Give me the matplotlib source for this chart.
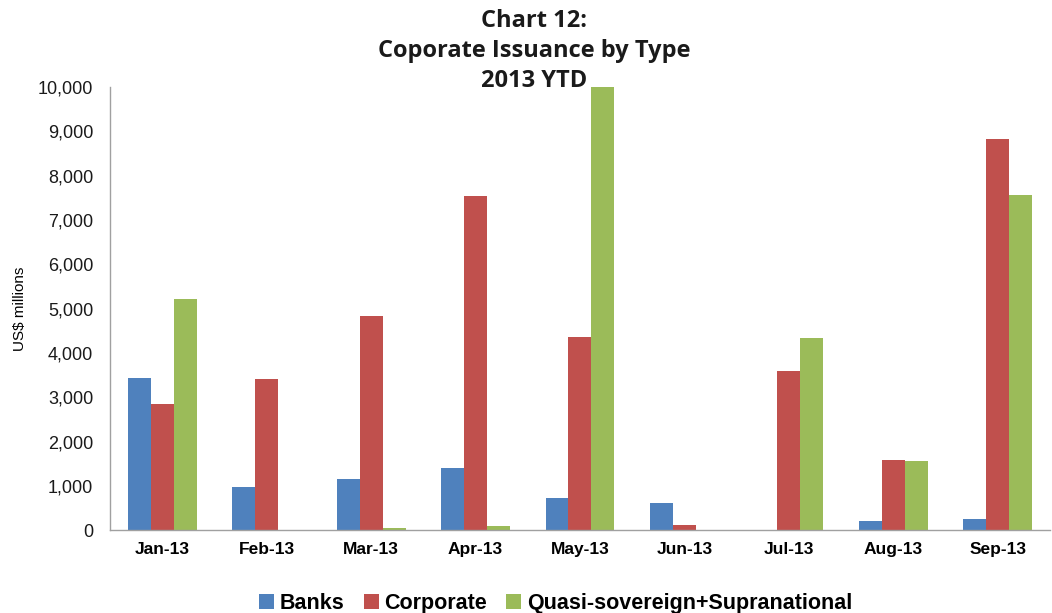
import matplotlib
matplotlib.use("Agg")
import matplotlib.pyplot as plt
import numpy as np

# Monthly corporate issuance, US$ millions
months = ["Jan-13", "Feb-13", "Mar-13", "Apr-13", "May-13", "Jun-13",
          "Jul-13", "Aug-13", "Sep-13"]
banks = [3450, 980, 1160, 1410, 740, 610, 0, 210, 270]
corporate = [2860, 3420, 4840, 7550, 4370, 120, 3600, 1600, 8830]
quasi_sovereign = [5210, 0, 60, 90, 10000, 0, 4330, 1570, 7560]

series_names = ["Banks", "Corporate", "Quasi-sovereign+Supranational"]
colors = ["#4F81BD", "#C0504D", "#9BBB59"]
yticks = list(range(0, 10001, 1000))

fig = plt.figure(figsize=(10.52, 6.13), dpi=100)
ax = fig.add_axes([0.1046, 0.1346, 0.8934, 0.7234])

x = np.arange(len(months))
width = 0.22
for i, (vals, name, c) in enumerate(zip([banks, corporate, quasi_sovereign],
                                         series_names, colors)):
    ax.bar(x + (i - 1) * width, vals, width, color=c, label=name,
           linewidth=0)

ax.set_xlim(-0.5, len(months) - 0.5)
ax.set_ylim(0, 10000)
ax.set_yticks(yticks)
ax.set_yticklabels([f"{v:,}" for v in yticks], fontsize=13,
                   family="Liberation Sans", color="#1a1a1a")
ax.set_xticks(x)
ax.set_xticklabels(months, fontsize=12.5, fontweight="bold",
                   family="Liberation Sans")
ax.tick_params(axis="y", length=0, pad=12)
ax.tick_params(axis="x", length=0, pad=8)

for side in ["top", "right"]:
    ax.spines[side].set_visible(False)
for side in ["left", "bottom"]:
    ax.spines[side].set_color("#a0a0a0")
    ax.spines[side].set_linewidth(1.0)

ax.set_ylabel("US$ millions", fontsize=11, family="Liberation Sans")
ax.yaxis.set_label_coords(-0.088, 0.5)

fig.text(0.508, 0.985, "Chart 12:\nCoporate Issuance by Type\n2013 YTD",
         ha="center", va="top", fontsize=17, fontweight="bold",
         family="Open Sans", linespacing=1.33, color="#1a1a1a")

leg = fig.legend(loc="center", bbox_to_anchor=(0.528, 0.015), ncol=3,
                 frameon=False, handlelength=0.7, handleheight=0.7,
                 handletextpad=0.25, columnspacing=0.9,
                 prop={"family": "Liberation Sans", "weight": "bold",
                       "size": 15.5})

fig.savefig("out.png", dpi=100)
